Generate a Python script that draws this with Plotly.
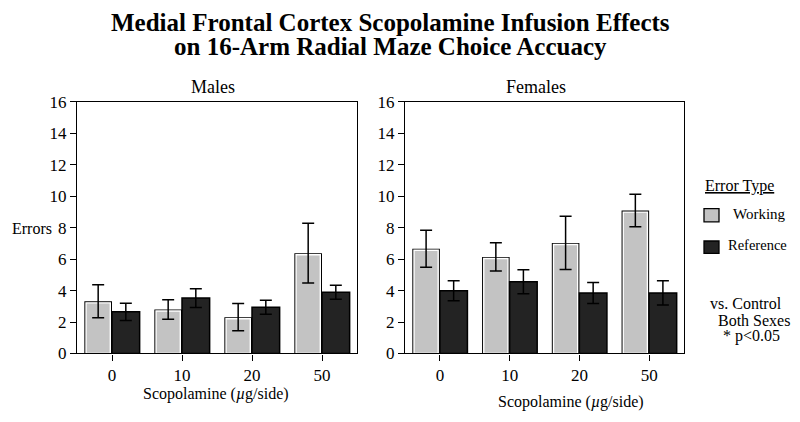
import plotly.graph_objects as go

doses = ['0', '10', '20', '50']

males_working = [3.32, 2.80, 2.31, 6.38]
males_working_err = [1.05, 0.62, 0.87, 1.90]
males_reference = [2.65, 3.52, 2.94, 3.89]
males_reference_err = [0.55, 0.60, 0.45, 0.45]

females_working = [6.66, 6.14, 7.03, 9.09]
females_working_err = [1.17, 0.90, 1.69, 1.04]
females_reference = [3.99, 4.56, 3.85, 3.85]
females_reference_err = [0.63, 0.77, 0.67, 0.77]

star_males = ['50', 9.3]
star_females = ['50', 11.15]

FONT = 'Liberation Serif'
GRAY = '#c3c3c3'
DARK = '#232323'
BW = 0.395

# the page body has an 8px margin, so the figure is sized to fit inside it
W, H, PAD = 784, 406, 8


def px(x):
    return (x - PAD) / W


def py(y):
    return 1 - (y - PAD) / H


fig = go.Figure()


def add_panel(xa, ya, working, w_err, reference, r_err):
    # working bar: black outer edge, then an inset grey bar with a white rim
    fig.add_trace(go.Bar(x=doses, y=working, xaxis=xa, yaxis=ya,
                         offset=-BW, width=BW, marker=dict(color='black', line=dict(width=0))))
    fig.add_trace(go.Bar(x=doses, y=[v - 0.1 for v in working], xaxis=xa, yaxis=ya,
                         offset=-BW + 0.024, width=BW - 0.048,
                         marker=dict(color=GRAY, line=dict(color='white', width=1.4))))
    # transparent copy that carries the error bars on top
    fig.add_trace(go.Bar(x=doses, y=working, xaxis=xa, yaxis=ya,
                         offset=-BW, width=BW, marker=dict(color='rgba(0,0,0,0)', line=dict(width=0)),
                         error_y=dict(type='data', array=w_err, color='black', thickness=1.5, width=6)))
    fig.add_trace(go.Bar(x=doses, y=reference, xaxis=xa, yaxis=ya,
                         offset=0, width=BW,
                         marker=dict(color=DARK, line=dict(color='black', width=1.5)),
                         error_y=dict(type='data', array=r_err, color='black', thickness=1.5, width=6)))


add_panel('x', 'y', males_working, males_working_err, males_reference, males_reference_err)
add_panel('x2', 'y2', females_working, females_working_err, females_reference, females_reference_err)

axis_common = dict(showline=True, linecolor='black', linewidth=1.4, mirror=True,
                   ticks='outside', ticklen=6, tickcolor='black', tickwidth=1.2,
                   tickfont=dict(family=FONT, size=17, color='black'), showgrid=False,
                   zeroline=False)

fig.update_layout(
    width=W, height=H, margin=dict(l=0, r=0, t=0, b=0),
    paper_bgcolor='white', plot_bgcolor='white', showlegend=False, barmode='overlay',
    font=dict(family=FONT, color='black'),
    xaxis=dict(domain=[px(77), px(357)], anchor='y', type='category', range=[-0.5, 3.5], **axis_common),
    yaxis=dict(domain=[py(361), py(97)], anchor='x', range=[0, 16], dtick=2, **axis_common),
    xaxis2=dict(domain=[px(405), px(684)], anchor='y2', type='category', range=[-0.5, 3.5], **axis_common),
    yaxis2=dict(domain=[py(361), py(97)], anchor='x2', range=[0, 16], dtick=2, **axis_common),
)

ann = [
    dict(text='<b>Medial Frontal Cortex Scopolamine Infusion Effects</b>', x=px(390), y=py(14), font=dict(size=25)),
    dict(text='<b>on 16-Arm Radial Maze Choice Accuacy</b>', x=px(390), y=py(39), font=dict(size=25)),
    dict(text='Males', x=px(213), y=py(81), font=dict(size=18)),
    dict(text='Females', x=px(536), y=py(81), font=dict(size=18)),
    dict(text='Errors', x=px(10), y=py(230), xanchor='left', font=dict(size=16)),
    dict(text='Scopolamine (<i>µ</i>g/side)', x=px(216), y=py(403), font=dict(size=16)),
    dict(text='Scopolamine (<i>µ</i>g/side)', x=px(571), y=py(412), font=dict(size=16)),
    dict(text='<u>Error Type</u>', x=px(703), y=py(185), xanchor='left', font=dict(size=16)),
    dict(text='Working', x=px(731), y=py(215), xanchor='left', font=dict(size=15)),
    dict(text='Reference', x=px(789), y=py(247), xanchor='right', font=dict(size=14.5)),
    dict(text='vs. Control', x=px(708), y=py(309), xanchor='left', font=dict(size=16)),
    dict(text='Both Sexes', x=px(716), y=py(326), xanchor='left', font=dict(size=16)),
    dict(text='* p<0.05', x=px(721), y=py(343), xanchor='left', font=dict(size=16)),
]
for a in ann:
    a.setdefault('xref', 'paper')
    a.setdefault('yref', 'paper')
    a.setdefault('xanchor', 'center')
    a.setdefault('yanchor', 'middle')
    a.setdefault('showarrow', False)
    fig.add_annotation(**a)

fig.add_annotation(text='*', x=star_males[0], y=star_males[1], xref='x', yref='y', xshift=-14,
                   showarrow=False, font=dict(size=18))
fig.add_annotation(text='*', x=star_females[0], y=star_females[1], xref='x2', yref='y2', xshift=-14,
                   showarrow=False, font=dict(size=18))

# legend swatches
fig.add_shape(type='rect', xref='paper', yref='paper', x0=px(704), x1=px(719),
              y0=py(223), y1=py(209), fillcolor=GRAY, line=dict(color='black', width=1.3))
fig.add_shape(type='rect', xref='paper', yref='paper', x0=px(704), x1=px(719),
              y0=py(256), y1=py(243), fillcolor=DARK, line=dict(color='black', width=1.3))

fig.write_html('out.html')
